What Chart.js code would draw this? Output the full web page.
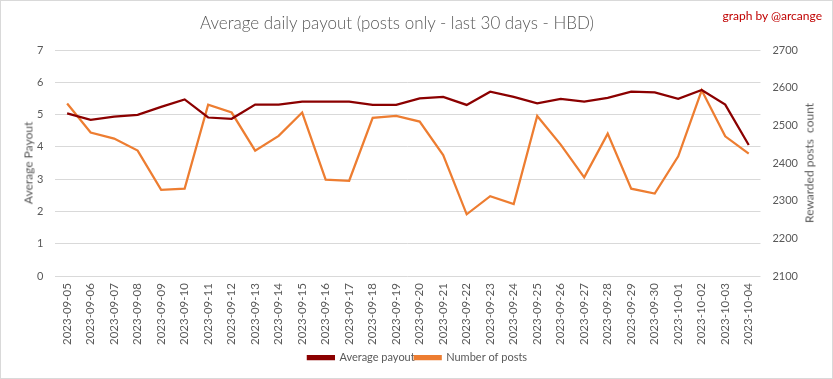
<!DOCTYPE html>
<html>
<head>
<meta charset="utf-8">
<script src="https://cdn.jsdelivr.net/npm/chart.js@4/dist/chart.umd.min.js"></script>
<style>
  html, body { margin: 0; padding: 0; background: #ffffff; }
  #wrap { position: relative; width: 831px; height: 377px; border: 1px solid #d9d9d9; background: #fff; }
  .abs { position: absolute; width: 0; height: 0; }
  .abs span { position: absolute; left: 0; top: 0; white-space: pre; font-family: Lato, sans-serif; color: #595959; }
  #title span { transform: translate(-50%, -50%); font-weight: 300; font-size: 17px; }
  .vt span { transform: translate(-50%, -50%) rotate(-90deg); font-size: 12px; }
  #credit { position: absolute; right: 10px; top: 7px; font-family: Lato, sans-serif; font-size: 12px; color: #c00000; }
  canvas { display: block; }
</style>
</head>
<body>
<div id="wrap">
  <canvas id="c" width="831" height="377"></canvas>
  <div id="title" class="abs" style="left:396px;top:21px"><span>Average daily payout (posts only - last 30 days - HBD)</span></div>
  <div id="credit">graph by @arcange</div>
  <div class="abs vt" style="left:27px;top:162px"><span>Average Payout</span></div>
  <div class="abs vt" style="left:808px;top:162px"><span>Rewarded posts  count</span></div>
</div>
<script>
const categories = ["2023-09-05","2023-09-06","2023-09-07","2023-09-08","2023-09-09","2023-09-10","2023-09-11","2023-09-12","2023-09-13","2023-09-14","2023-09-15","2023-09-16","2023-09-17","2023-09-18","2023-09-19","2023-09-20","2023-09-21","2023-09-22","2023-09-23","2023-09-24","2023-09-25","2023-09-26","2023-09-27","2023-09-28","2023-09-29","2023-09-30","2023-10-01","2023-10-02","2023-10-03","2023-10-04"];
const averagePayout = [5.04,4.84,4.94,4.99,5.24,5.47,4.91,4.87,5.31,5.31,5.40,5.40,5.40,5.30,5.30,5.50,5.55,5.30,5.71,5.55,5.35,5.49,5.40,5.52,5.71,5.69,5.49,5.76,5.31,4.06];
const numberOfPosts = [2558,2481,2465,2433,2329,2332,2555,2534,2433,2472,2534,2356,2353,2520,2525,2510,2421,2264,2312,2291,2525,2449,2362,2478,2332,2319,2418,2593,2471,2425];
const leftTicks = [0,1,2,3,4,5,6,7];
const rightTicks = [2100,2200,2300,2400,2500,2600,2700];

const FONT = "Lato, 'Open Sans', sans-serif";
const GREY = "#595959";

new Chart(document.getElementById('c'), {
  type: 'line',
  data: {
    labels: categories,
    datasets: [
      { label: 'Average payout', data: averagePayout, yAxisID: 'y',
        borderColor: '#8b0000', backgroundColor: '#8b0000', borderWidth: 2.25, pointRadius: 0, tension: 0 },
      { label: 'Number of posts', data: numberOfPosts, yAxisID: 'y1',
        borderColor: '#ed7d31', backgroundColor: '#ed7d31', borderWidth: 2.25, pointRadius: 0, tension: 0 }
    ]
  },
  options: {
    responsive: false,
    animation: false,
    layout: { padding: { left: 24, right: 22, top: 49, bottom: 5 } },
    plugins: {
      title: { display: false },
      legend: { position: 'bottom',
        labels: { boxWidth: 26, boxHeight: 3, color: GREY, font: { family: FONT, size: 11 }, padding: 0 } },
      tooltip: { enabled: false }
    },
    scales: {
      x: {
        offset: true,
        grid: { display: false, drawTicks: false },
        border: { display: false },
        ticks: { color: GREY, font: { family: FONT, size: 11.5 }, maxRotation: 90, minRotation: 90, autoSkip: false, padding: 7 }
      },
      y: {
        position: 'left', min: 0, max: 7,
        afterBuildTicks: (s) => { s.ticks = leftTicks.map(v => ({ value: v })); },
        grid: { color: '#d9d9d9', drawTicks: false },
        border: { display: false },
        ticks: { color: GREY, font: { family: FONT, size: 11 }, padding: 12 }
      },
      y1: {
        position: 'right', min: 2100, max: 2700,
        afterBuildTicks: (s) => { s.ticks = rightTicks.map(v => ({ value: v })); },
        grid: { display: false, drawTicks: false },
        border: { display: false },
        ticks: { color: GREY, font: { family: FONT, size: 11 }, padding: 12, callback: (v) => String(v) }
      }
    }
  }
});
</script>
</body>
</html>
